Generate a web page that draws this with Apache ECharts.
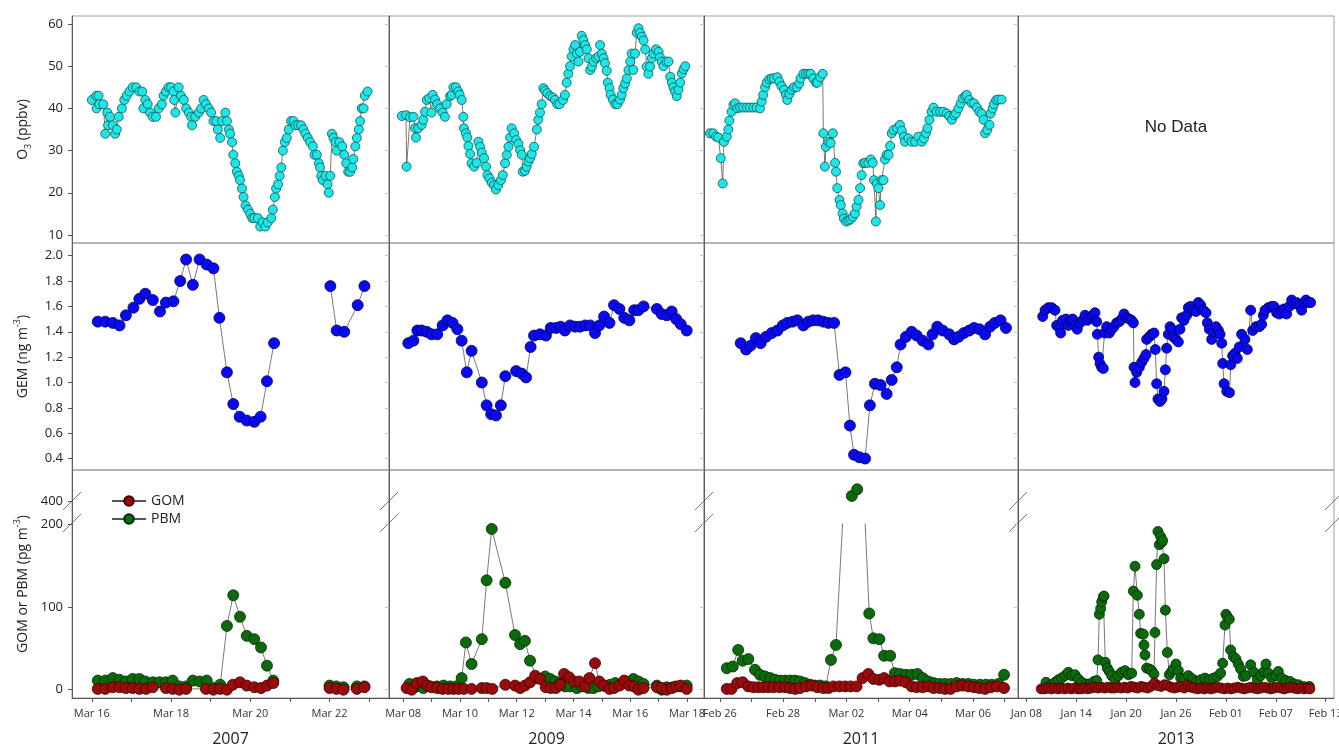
<!DOCTYPE html>
<html>
<head>
<meta charset="utf-8">
<script src="https://cdn.jsdelivr.net/npm/echarts@6/dist/echarts.min.js"></script>
<style>
  html, body { margin: 0; padding: 0; background: #fff; }
  #chart { width: 1339px; height: 748px; }
</style>
</head>
<body>
<div id="chart"></div>
<script>
// x values are days: 2007/2009 = day of March, 2011 = days after Feb 28, 2013 = days after Dec 31
const years = ['2007', '2009', '2011', '2013'];

// ---------- O3 (ppbv) ----------
const o3_2007 = [[16.00,42],[16.11,43],[16.12,40],[16.17,43],[16.19,41],[16.29,41],[16.34,34],[16.39,39],[16.41,36],[16.46,38],[16.53,36],[16.59,34],[16.63,35],[16.68,38],[16.76,40],[16.82,42],[16.88,43],[16.95,44],[17.03,45],[17.12,45],[17.20,44],[17.27,44],[17.30,40],[17.35,42],[17.41,41],[17.47,39],[17.54,38],[17.62,38],[17.69,40],[17.77,41],[17.81,43],[17.87,44],[17.94,45],[18.00,45],[18.06,44],[18.08,42],[18.11,39],[18.19,45],[18.25,43],[18.32,42],[18.38,40],[18.45,39],[18.51,38],[18.53,36],[18.61,38],[18.70,39],[18.76,40],[18.82,42],[18.88,41],[18.95,40],[19.01,39],[19.07,37],[19.14,37],[19.18,35],[19.24,33],[19.29,37],[19.37,39],[19.41,37],[19.46,35],[19.49,34],[19.54,32],[19.57,29],[19.62,27],[19.66,25],[19.71,24],[19.74,23],[19.79,21],[19.83,19],[19.88,17],[19.94,16],[20.00,15],[20.05,14],[20.10,14],[20.19,14],[20.25,12],[20.31,13],[20.38,12],[20.44,13],[20.53,14],[20.57,16],[20.62,19],[20.65,21],[20.70,22],[20.74,24],[20.78,26],[20.82,30],[20.87,32],[20.92,33],[20.97,35],[21.03,37],[21.09,37],[21.14,36],[21.21,36],[21.28,36],[21.34,35],[21.39,34],[21.45,33],[21.51,32],[21.58,31],[21.62,29],[21.68,29],[21.73,27],[21.76,26],[21.79,24],[21.83,23],[21.90,24],[21.95,22],[21.98,20],[22.02,24],[22.06,34],[22.10,33],[22.15,32],[22.18,30],[22.25,32],[22.32,31],[22.37,29],[22.42,27],[22.47,25],[22.52,25],[22.57,26],[22.60,28],[22.65,31],[22.69,33],[22.74,35],[22.77,37],[22.81,40],[22.86,40],[22.89,43],[22.96,44]];

const o3_2009 = [[7.95,38.2],[8.10,38.4],[8.12,26.2],[8.24,37.9],[8.36,38.0],[8.42,35.3],[8.45,33.1],[8.53,35.3],[8.65,36.1],[8.71,37.3],[8.77,39.2],[8.83,42.0],[8.92,42.4],[9.00,39.0],[9.04,43.2],[9.12,42.1],[9.20,41.0],[9.30,40.0],[9.39,39.0],[9.47,38.0],[9.53,41.0],[9.65,42.9],[9.71,43.2],[9.77,45.0],[9.86,45.0],[9.94,44.0],[9.99,43.2],[10.06,42.0],[10.12,38.0],[10.14,35.3],[10.21,34.1],[10.26,33.1],[10.30,31.1],[10.36,29.2],[10.41,27.0],[10.50,26.2],[10.59,27.1],[10.65,32.1],[10.71,30.9],[10.77,29.5],[10.85,28.2],[10.92,26.2],[10.97,24.2],[11.04,23.4],[11.12,22.4],[11.20,21.8],[11.27,20.8],[11.35,21.8],[11.44,23.0],[11.51,24.2],[11.59,27.0],[11.65,29.0],[11.71,30.9],[11.77,33.1],[11.82,35.3],[11.91,34.1],[11.98,32.5],[12.06,31.6],[12.12,30.1],[12.18,29.0],[12.21,25.0],[12.29,25.2],[12.35,26.2],[12.41,27.4],[12.47,28.2],[12.53,29.2],[12.61,30.9],[12.71,35.0],[12.76,37.3],[12.82,39.0],[12.88,41.0],[12.94,44.8],[13.00,44.2],[13.08,43.6],[13.18,42.9],[13.27,42.6],[13.35,42.0],[13.43,41.0],[13.51,41.0],[13.63,42.0],[13.70,43.2],[13.76,46.1],[13.82,48.2],[13.88,50.0],[13.94,52.3],[14.00,54.0],[14.06,55.0],[14.12,53.0],[14.18,51.1],[14.23,53.4],[14.29,57.2],[14.35,56.2],[14.41,55.0],[14.47,54.0],[14.53,51.9],[14.59,49.1],[14.65,49.9],[14.71,51.1],[14.80,51.9],[14.88,52.3],[14.94,55.0],[15.00,53.0],[15.06,51.9],[15.11,50.7],[15.17,48.9],[15.21,46.1],[15.27,44.8],[15.31,43.2],[15.39,42.1],[15.47,41.0],[15.55,41.0],[15.64,42.1],[15.70,43.2],[15.76,44.8],[15.82,45.9],[15.88,47.1],[15.94,49.1],[16.00,51.1],[16.05,53.0],[16.11,49.1],[16.17,53.0],[16.23,57.9],[16.29,59.0],[16.35,57.9],[16.41,57.0],[16.47,56.1],[16.53,54.0],[16.58,49.9],[16.64,48.2],[16.70,49.9],[16.76,51.9],[16.82,53.0],[16.91,54.0],[17.00,53.4],[17.05,52.1],[17.11,51.1],[17.17,50.0],[17.27,51.1],[17.35,51.1],[17.41,47.5],[17.47,46.1],[17.52,45.0],[17.58,44.0],[17.64,42.9],[17.70,44.4],[17.76,46.1],[17.82,48.3],[17.88,49.3],[17.94,50.0]];

const o3_2011 = [[-2.31,34.1],[-2.21,34.1],[-2.12,33.3],[-2.05,33.1],[-1.97,28.2],[-1.91,22.2],[-1.87,32.1],[-1.78,33.3],[-1.73,35.0],[-1.70,37.1],[-1.63,39.2],[-1.57,40.8],[-1.52,41.2],[-1.45,40.0],[-1.36,40.2],[-1.26,40.2],[-1.15,40.2],[-1.05,40.2],[-0.94,40.2],[-0.84,40.2],[-0.73,40.0],[-0.68,41.6],[-0.63,43.2],[-0.57,45.0],[-0.52,46.1],[-0.44,46.9],[-0.36,47.1],[-0.29,47.1],[-0.18,47.4],[-0.12,46.3],[-0.05,45.3],[0.03,44.4],[0.09,43.2],[0.13,42.0],[0.20,43.4],[0.27,44.4],[0.34,45.0],[0.43,45.0],[0.51,45.9],[0.55,47.1],[0.64,48.2],[0.72,48.2],[0.80,48.2],[0.87,48.2],[0.95,47.1],[1.04,46.1],[1.08,46.1],[1.17,47.4],[1.25,48.2],[1.27,34.1],[1.32,26.2],[1.35,30.9],[1.43,32.1],[1.50,31.8],[1.57,34.1],[1.64,27.1],[1.67,25.0],[1.71,21.1],[1.78,18.3],[1.82,17.1],[1.88,15.1],[1.92,13.9],[1.99,13.2],[2.06,13.4],[2.13,13.7],[2.20,14.3],[2.27,15.1],[2.32,16.7],[2.38,18.3],[2.43,21.1],[2.48,24.2],[2.53,27.0],[2.59,27.1],[2.69,27.1],[2.77,27.9],[2.83,27.1],[2.87,23.0],[2.93,13.2],[2.96,22.2],[3.01,21.1],[3.06,17.1],[3.11,23.0],[3.17,23.0],[3.22,27.9],[3.27,29.0],[3.33,29.0],[3.38,31.1],[3.43,34.1],[3.49,34.9],[3.60,35.3],[3.69,36.1],[3.75,34.7],[3.82,33.3],[3.85,32.1],[3.96,32.9],[4.06,32.1],[4.17,32.1],[4.27,33.3],[4.38,32.1],[4.45,32.9],[4.51,34.1],[4.56,35.3],[4.62,37.3],[4.69,39.2],[4.75,40.2],[4.85,39.2],[4.96,39.2],[5.06,39.2],[5.17,38.8],[5.25,38.2],[5.33,37.3],[5.40,38.4],[5.46,38.8],[5.54,40.0],[5.61,41.2],[5.67,42.4],[5.75,42.9],[5.80,43.2],[5.88,42.0],[5.96,41.2],[6.03,41.2],[6.12,40.2],[6.20,39.2],[6.27,38.8],[6.33,37.3],[6.38,34.1],[6.45,34.9],[6.52,36.1],[6.56,38.8],[6.62,40.0],[6.66,41.0],[6.73,42.0],[6.80,42.1],[6.90,42.1]];

// ---------- GEM (ng m-3) ----------
const gem_2007 = [[16.15,1.48],[16.34,1.48],[16.53,1.47],[16.70,1.45],[16.86,1.53],[17.05,1.59],[17.20,1.66],[17.35,1.70],[17.54,1.65],[17.72,1.56],[17.87,1.63],[18.06,1.64],[18.23,1.80],[18.38,1.97],[18.55,1.77],[18.72,1.97],[18.90,1.93],[19.07,1.90],[19.22,1.51],[19.41,1.08],[19.57,0.83],[19.73,0.73],[19.91,0.70],[20.10,0.69],[20.26,0.73],[20.42,1.01],[20.60,1.31],[21.30,null],[22.02,1.76],[22.18,1.41],[22.37,1.40],[22.71,1.61],[22.88,1.76]];

const gem_2009 = [[8.18,1.31],[8.36,1.33],[8.50,1.41],[8.65,1.41],[8.83,1.40],[9.00,1.38],[9.20,1.38],[9.39,1.45],[9.56,1.49],[9.74,1.47],[9.91,1.42],[10.06,1.33],[10.24,1.08],[10.41,1.25],[10.77,1.00],[10.94,0.82],[11.10,0.75],[11.27,0.74],[11.44,0.82],[11.60,1.05],[11.80,null],[11.98,1.09],[12.18,1.07],[12.33,1.04],[12.49,1.28],[12.61,1.37],[12.82,1.38],[13.03,1.37],[13.20,1.43],[13.39,1.43],[13.55,1.44],[13.70,1.41],[13.88,1.45],[14.06,1.44],[14.23,1.44],[14.41,1.45],[14.59,1.45],[14.76,1.39],[14.91,1.45],[15.08,1.52],[15.27,1.47],[15.43,1.61],[15.62,1.58],[15.79,1.51],[15.97,1.49],[16.14,1.57],[16.29,1.57],[16.47,1.60],[16.94,1.58],[17.11,1.54],[17.29,1.53],[17.46,1.56],[17.62,1.50],[17.78,1.46],[17.99,1.41]];

const gem_2011 = [[-1.34,1.31],[-1.17,1.26],[-1.03,1.29],[-0.86,1.35],[-0.71,1.31],[-0.54,1.36],[-0.36,1.39],[-0.18,1.41],[-0.01,1.45],[0.13,1.47],[0.30,1.48],[0.45,1.49],[0.64,1.45],[0.80,1.48],[0.95,1.49],[1.11,1.49],[1.27,1.48],[1.43,1.47],[1.61,1.47],[1.78,1.06],[1.97,1.08],[2.11,0.66],[2.24,0.43],[2.41,0.41],[2.59,0.40],[2.74,0.82],[2.90,0.99],[3.08,0.98],[3.27,0.91],[3.43,1.02],[3.59,1.12],[3.71,1.30],[3.88,1.36],[4.06,1.40],[4.22,1.37],[4.41,1.33],[4.59,1.30],[4.72,1.38],[4.87,1.44],[5.04,1.41],[5.25,1.38],[5.40,1.34],[5.54,1.36],[5.71,1.39],[5.88,1.41],[6.03,1.43],[6.20,1.42],[6.38,1.38],[6.54,1.44],[6.69,1.47],[6.87,1.49],[7.04,1.43]];

const gem_2013 = [[9.97,1.52],[10.25,1.57],[10.65,1.59],[11.05,1.59],[11.45,1.57],[11.65,1.45],[11.97,1.43],[12.13,1.39],[12.37,1.49],[12.77,1.50],[13.05,1.45],[13.33,1.49],[13.57,1.50],[13.85,1.45],[14.13,1.42],[14.45,1.47],[14.78,1.49],[15.06,1.53],[15.34,1.49],[15.66,1.51],[15.98,1.53],[16.26,1.55],[16.46,1.48],[16.54,1.38],[16.70,1.20],[16.86,1.15],[17.06,1.12],[17.26,1.11],[17.42,1.39],[17.66,1.44],[17.98,1.39],[18.26,1.42],[18.54,1.44],[18.86,1.47],[19.18,1.48],[19.46,1.50],[19.75,1.54],[20.07,1.51],[20.39,1.50],[20.67,1.49],[20.87,1.47],[20.95,1.12],[21.07,1.00],[21.27,1.08],[21.59,1.12],[21.87,1.16],[22.15,1.19],[22.39,1.22],[22.47,1.34],[22.79,1.36],[23.07,1.38],[23.35,1.39],[23.51,1.26],[23.67,0.99],[23.83,0.87],[24.07,0.85],[24.31,0.87],[24.56,0.93],[24.72,1.10],[24.88,1.27],[25.08,1.38],[25.28,1.44],[25.48,1.42],[25.68,1.36],[26.00,1.34],[26.28,1.32],[26.48,1.42],[26.68,1.51],[26.96,1.49],[27.28,1.53],[27.48,1.59],[27.76,1.60],[28.08,1.57],[28.40,1.56],[28.68,1.63],[28.96,1.61],[29.28,1.57],[29.61,1.55],[29.77,1.47],[30.01,1.42],[30.29,1.34],[30.49,1.40],[30.81,1.44],[31.10,1.41],[31.30,1.38],[31.50,1.31],[31.62,1.15],[31.78,0.99],[32.10,0.93],[32.43,0.92],[32.59,1.14],[32.81,1.21],[33.09,1.23],[33.37,1.19],[33.61,1.28],[33.89,1.38],[34.29,1.34],[34.58,1.26],[34.98,1.57],[35.22,1.41],[35.62,1.44],[36.02,1.44],[36.30,1.46],[36.50,1.53],[36.70,1.57],[37.10,1.59],[37.50,1.60],[37.78,1.60],[38.10,1.55],[38.42,1.54],[38.70,1.57],[38.98,1.58],[39.30,1.54],[39.63,1.60],[39.91,1.65],[40.19,1.62],[40.51,1.63],[40.83,1.61],[41.11,1.57],[41.39,1.63],[41.63,1.65],[41.91,1.63],[42.19,1.63]];

// ---------- GOM (pg m-3) ----------
const gom_2007 = [[16.15,1],[16.34,1],[16.53,3],[16.70,3],[16.86,2],[17.03,2],[17.20,1],[17.37,1],[17.54,3],[17.87,2],[18.04,1],[18.21,0],[18.38,1],[18.88,1],[19.07,0],[19.24,1],[19.41,0],[19.56,6],[19.74,9],[19.91,5],[20.10,3],[20.27,2],[20.42,5],[20.58,8],[21.30,null],[22.00,2],[22.17,1],[22.35,0],[22.69,1],[22.88,3]];

const gom_2009 = [[8.12,2],[8.30,0],[8.48,8],[8.69,10],[8.85,5],[9.00,3],[9.20,2],[9.39,1],[9.59,1],[9.77,1],[9.94,1],[10.14,1],[10.41,1],[10.77,2],[10.94,2],[11.14,1],[11.60,6],[11.94,5],[12.12,2],[12.29,5],[12.47,9],[12.65,17],[12.82,13],[13.02,3],[13.20,2],[13.38,2],[13.53,6],[13.67,19],[13.85,15],[14.02,10],[14.21,10],[14.41,4],[14.56,14],[14.76,32],[14.91,10],[15.08,5],[15.27,1],[15.43,2],[15.62,5],[15.79,11],[15.97,5],[16.14,4],[16.29,0],[16.47,2],[16.94,3],[17.11,2],[17.29,0],[17.46,2],[17.62,4],[17.78,5],[17.99,1]];

const gom_2011 = [[-1.78,1],[-1.63,1],[-1.45,8],[-1.28,9],[-1.10,4],[-0.94,3],[-0.78,3],[-0.63,3],[-0.47,3],[-0.31,3],[-0.12,3],[0.06,3],[0.22,2],[0.38,1],[0.53,2],[0.72,4],[0.90,5],[1.08,3],[1.27,2],[1.43,2],[1.59,4],[1.78,4],[1.96,4],[2.13,4],[2.32,4],[2.51,14],[2.69,19],[2.85,13],[3.04,12],[3.19,14],[3.36,10],[3.53,10],[3.69,11],[3.88,9],[4.06,4],[4.22,3],[4.41,3],[4.59,4],[4.75,2],[4.94,2],[5.11,1],[5.29,1],[5.48,4],[5.67,5],[5.85,4],[6.03,3],[6.20,2],[6.38,1],[6.56,3],[6.75,4],[6.98,2]];

const gom_2013 = [[9.8,1],[10.2,1],[10.6,2],[11.0,1],[11.4,2],[11.8,1],[12.2,2],[12.6,1],[13.0,2],[13.4,1],[13.8,2],[14.2,1],[14.6,1],[15.0,2],[15.4,1],[15.8,2],[16.2,3],[16.6,2],[17.0,3],[17.4,2],[17.8,3],[18.2,2],[18.6,2],[19.0,3],[19.4,2],[19.8,3],[20.2,2],[20.6,4],[21.0,3],[21.4,2],[21.8,4],[22.2,3],[22.6,2],[23.0,4],[23.4,8],[23.8,5],[24.2,4],[24.6,6],[25.0,5],[25.4,3],[25.8,2],[26.2,3],[26.6,4],[27.0,2],[27.4,5],[27.8,3],[28.2,2],[28.6,1],[29.0,2],[29.4,1],[29.8,2],[30.2,1],[30.6,2],[31.0,3],[31.4,2],[31.8,1],[32.2,2],[32.6,1],[33.0,2],[33.4,3],[33.8,2],[34.2,1],[34.6,2],[35.0,3],[35.4,2],[35.8,1],[36.2,2],[36.6,3],[37.0,2],[37.4,1],[37.8,2],[38.2,3],[38.6,2],[39.0,1],[39.4,2],[39.8,3],[40.2,2],[40.6,1],[41.0,2],[41.4,1],[41.8,2],[42.1,1]];

// ---------- PBM (pg m-3) ----------
const pbm_2007 = [[16.15,11],[16.34,11],[16.53,14],[16.70,12],[16.86,10],[17.03,13],[17.20,13],[17.35,10],[17.54,9],[17.71,9],[17.87,9],[18.04,11],[18.21,4],[18.38,4],[18.55,11],[18.72,10],[18.90,11],[19.07,2],[19.24,6],[19.41,77],[19.57,114],[19.74,88],[19.91,65],[20.10,61],[20.27,51],[20.42,29],[20.58,11],[21.30,null],[22.00,5],[22.17,4],[22.35,3],[22.69,4],[22.88,4]];

const pbm_2009 = [[8.22,7],[8.48,4],[8.71,2],[8.95,4],[9.19,4],[9.42,5],[9.65,4],[9.86,4],[10.06,14],[10.21,57],[10.41,31],[10.77,61],[10.94,132],[11.12,194],[11.60,129],[11.94,66],[12.12,55],[12.29,59],[12.47,35],[12.71,14],[13.00,16],[13.18,13],[13.35,10],[13.53,8],[13.70,4],[13.88,4],[14.12,2],[14.29,4],[14.53,2],[14.70,2],[14.88,4],[15.08,5],[15.29,6],[15.47,8],[15.64,6],[15.90,9],[16.11,13],[16.29,10],[16.47,7],[16.94,5],[17.11,0],[17.29,3],[17.52,3],[17.76,4],[17.99,5]];

const pbm_2011 = [[-1.78,26],[-1.59,28],[-1.42,48],[-1.28,35],[-1.10,37],[-0.89,24],[-0.73,18],[-0.57,16],[-0.41,14],[-0.26,12],[-0.10,11],[0.06,11],[0.22,11],[0.38,11],[0.53,10],[0.69,8],[0.85,6],[1.01,5],[1.17,5],[1.35,4],[1.51,36],[1.67,54],[2.17,406],[2.34,414],[2.72,92],[2.85,62],[3.04,61],[3.19,41],[3.38,41],[3.53,20],[3.69,19],[3.88,18],[4.06,18],[4.24,19],[4.41,14],[4.59,10],[4.75,8],[4.94,7],[5.11,7],[5.29,7],[5.48,8],[5.67,7],[5.85,7],[6.03,6],[6.22,6],[6.41,6],[6.59,6],[6.80,7],[6.98,18]];

const pbm_2013 = [[10.37,9],[10.85,5],[11.45,9],[11.85,12],[12.25,14],[12.65,17],[13.05,21],[13.45,17],[13.85,18],[14.25,13],[14.66,9],[15.18,7],[15.66,7],[16.14,10],[16.46,11],[16.62,36],[16.78,91],[16.94,98],[17.06,106],[17.26,112],[17.34,113],[17.50,33],[17.74,26],[17.98,22],[18.26,17],[18.66,12],[19.06,17],[19.46,21],[19.87,23],[20.27,18],[20.67,20],[20.87,119],[21.07,149],[21.35,114],[21.59,91],[21.75,68],[22.07,67],[22.15,54],[22.27,42],[22.47,26],[22.79,25],[23.07,23],[23.35,19],[23.47,69],[23.67,151],[23.83,191],[23.99,175],[24.15,185],[24.31,178],[24.39,180],[24.56,158],[24.72,96],[24.96,45],[25.20,18],[25.48,22],[25.68,25],[26.00,31],[26.28,23],[26.56,14],[26.96,13],[27.48,17],[28.00,13],[28.48,10],[28.96,12],[29.48,14],[30.01,12],[30.49,14],[30.97,16],[31.37,20],[31.61,32],[31.89,78],[32.01,91],[32.17,88],[32.41,85],[32.57,48],[32.89,40],[33.21,37],[33.49,31],[33.77,25],[34.09,16],[34.41,17],[34.98,30],[35.38,21],[35.78,12],[36.18,17],[36.58,22],[36.82,31],[37.10,20],[37.50,14],[38.02,17],[38.30,22],[38.70,14],[39.22,11],[39.71,10],[40.19,7],[40.71,6],[41.31,4],[42.03,4]];

// ---------- axis ticks ----------
const xTicks = [
  [16, 17, 18, 19, 20, 21, 22, 23],
  [8, 9, 10, 11, 12, 13, 14, 15, 16, 17, 18],
  [-2, -1, 0, 1, 2, 3, 4, 5, 6, 7],
  [8, 14, 20, 26, 32, 38, 44]
];
const xTickLabels = [
  [16, 18, 20, 22],
  [8, 10, 12, 14, 16, 18],
  [-2, 0, 2, 4, 6],
  [8, 14, 20, 26, 32, 38, 44]
];
const o3Ticks = [10, 20, 30, 40, 50, 60];
const gemTicks = [0.4, 0.6, 0.8, 1.0, 1.2, 1.4, 1.6, 1.8, 2.0];
const lowTicks = [0, 100, 200];
const highTicks = [400];

const o3Data = [o3_2007, o3_2009, o3_2011, null];
const gemData = [gem_2007, gem_2009, gem_2011, gem_2013];
const gomData = [gom_2007, gom_2009, gom_2011, gom_2013];
const pbmData = [pbm_2007, pbm_2009, pbm_2011, pbm_2013];

// ---------- layout ----------
const FONT = "'Open Sans', 'Noto Sans', sans-serif";
const colL = [72, 389, 704, 1018];
const colR = [389, 704, 1018, 1334];
const xRange = [[15.5, 23.5], [7.5, 18.6], [-2.5, 7.42], [7, 45]];
const pad2 = n => (n < 10 ? '0' : '') + n;
const dateFmt = [
  v => 'Mar ' + pad2(v),
  v => 'Mar ' + pad2(v),
  v => (v <= 0 ? 'Feb ' + pad2(28 + v) : 'Mar ' + pad2(v)),
  v => (v <= 31 ? 'Jan ' + pad2(v) : 'Feb ' + pad2(v - 31))
];

const titleRich = {
  b: { fontSize: 14, color: '#222', fontFamily: FONT, lineHeight: 20 },
  sub: { fontSize: 9, color: '#222', fontFamily: FONT, lineHeight: 10, verticalAlign: 'bottom' },
  sup: { fontSize: 9, color: '#222', fontFamily: FONT, lineHeight: 10, verticalAlign: 'top' }
};

const grids = [], xAxes = [], yAxes = [], series = [];

function addGrid(c, top, height, show) {
  grids.push({
    left: colL[c], width: colR[c] - colL[c], top: top, height: height,
    show: show, borderColor: '#9c9c9c', borderWidth: 1, backgroundColor: 'transparent',
    containLabel: false, outerBoundsMode: 'none'
  });
  return grids.length - 1;
}

function hiddenX(g, c) {
  return { type: 'value', gridIndex: g, min: xRange[c][0], max: xRange[c][1], show: false };
}

function dateX(g, c) {
  return {
    type: 'value', gridIndex: g, min: xRange[c][0], max: xRange[c][1],
    splitLine: { show: false },
    axisLine: { show: true, onZero: false, lineStyle: { color: '#555', width: 1 } },
    axisTick: { show: true, length: 4, customValues: xTicks[c], lineStyle: { color: '#555' } },
    axisLabel: {
      customValues: xTickLabels[c], formatter: dateFmt[c], margin: 10,
      fontSize: 11, color: '#333', fontFamily: FONT
    },
    name: years[c], nameLocation: 'middle', nameGap: 33,
    nameTextStyle: { fontSize: 16, color: '#222', fontFamily: FONT }
  };
}

function valueY(g, range, ticks, opts) {
  const o = Object.assign({ labels: false, line: true, fmt: null, name: null, tickColor: '#bbb' }, opts || {});
  const ax = {
    type: 'value', gridIndex: g, min: range[0], max: range[1],
    splitLine: { show: false },
    axisLine: { show: o.line, onZero: false, lineStyle: { color: '#5c5c5c', width: 1 } },
    axisTick: { show: ticks.length > 0, length: 4, customValues: ticks, lineStyle: { color: o.tickColor } },
    axisLabel: {
      show: o.labels, customValues: ticks, margin: 9,
      fontSize: 13, color: '#222', fontFamily: FONT
    }
  };
  if (o.fmt) ax.axisLabel.formatter = o.fmt;
  if (o.name) {
    ax.name = o.name;
    ax.nameLocation = 'middle';
    ax.nameRotate = 90;
    ax.nameGap = 39;
    ax.nameTextStyle = { rich: titleRich };
  }
  return ax;
}

function lineSeries(name, data, g, fill, edge, size) {
  return {
    type: 'line', name: name, xAxisIndex: g, yAxisIndex: g, data: data,
    symbol: 'circle', symbolSize: size, showSymbol: true, connectNulls: false, clip: true,
    lineStyle: { color: '#555', width: 0.8 },
    itemStyle: { color: fill, borderColor: edge, borderWidth: 0.8 },
    emphasis: { disabled: true }, silent: true, animation: false
  };
}

for (let c = 0; c < 4; c++) {
  const first = c === 0;
  const mk = c === 3 ? 10 : 11;

  // row 1: O3
  let g = addGrid(c, 16, 227, true);
  xAxes.push(hiddenX(g, c));
  yAxes.push(valueY(g, [8.1, 61.9], o3Ticks, {
    labels: first, tickColor: first ? '#555' : '#c4c4c4',
    name: first ? '{b|O}{sub|3}{b| (ppbv)}' : null
  }));
  if (o3Data[c]) series.push(lineSeries('O3', o3Data[c], g, '#1ee6e6', '#0b5656', 9));

  // row 2: GEM
  g = addGrid(c, 243, 227, true);
  xAxes.push(hiddenX(g, c));
  yAxes.push(valueY(g, [0.31, 2.10], gemTicks, {
    labels: first, tickColor: first ? '#555' : '#c4c4c4', fmt: v => v.toFixed(1),
    name: first ? '{b|GEM (ng m}{sup|-3}{b|)}' : null
  }));
  series.push(lineSeries('GEM', gemData[c], g, '#0a0af0', '#00005a', mk));

  // row 3: frame holding the broken axis
  g = addGrid(c, 470, 228, true);
  xAxes.push(hiddenX(g, c));
  yAxes.push(valueY(g, [0, 1], [], {
    labels: false, name: first ? '{b|GOM or PBM (pg m}{sup|-3}{b|)}' : null
  }));

  // row 3, upper segment (above the break)
  g = addGrid(c, 470, 31, false);
  xAxes.push(hiddenX(g, c));
  yAxes.push(valueY(g, [400, 437], first ? highTicks : [], { labels: first, line: false, tickColor: '#555' }));
  const pbmHigh = pbmData[c].map(p => [p[0], p[1] !== null && p[1] >= 300 ? p[1] : null]);
  series.push(lineSeries('PBM', pbmHigh, g, '#0c6a0c', '#032b03', mk));

  // row 3, lower segment (below the break)
  g = addGrid(c, 524, 174, false);
  xAxes.push(dateX(g, c));
  yAxes.push(valueY(g, [-10, 200], lowTicks, {
    labels: first, line: false, tickColor: first ? '#555' : '#c4c4c4'
  }));
  series.push(lineSeries('PBM', pbmData[c], g, '#0c6a0c', '#032b03', mk));
  series.push(lineSeries('GOM', gomData[c], g, '#980c0c', '#3d0000', mk));
}

// axis-break marks on every column boundary
const breakMarks = [];
[72, 389, 704, 1018, 1334].forEach(x => {
  [501, 523].forEach(y => {
    breakMarks.push({
      type: 'line', silent: true,
      shape: { x1: x - 9, y1: y + 9, x2: x + 9, y2: y - 9 },
      style: { stroke: '#777', lineWidth: 1 }
    });
  });
});

const option = {
  animation: false,
  backgroundColor: '#fff',
  grid: grids,
  xAxis: xAxes,
  yAxis: yAxes,
  series: series,
  legend: {
    data: ['GOM', 'PBM'], orient: 'vertical', left: 106, top: 489,
    itemWidth: 34, itemHeight: 12, itemGap: 4,
    textStyle: { fontSize: 14, color: '#222', fontFamily: FONT },
    selectedMode: false
  },
  graphic: breakMarks.concat([
    {
      type: 'text', x: 1176, y: 127, silent: true,
      style: {
        text: 'No Data', fontSize: 17, fill: '#222', fontFamily: "'Liberation Sans', Arial, sans-serif",
        align: 'center', verticalAlign: 'middle'
      }
    }
  ])
};

const chart = echarts.init(document.getElementById('chart'), null, { renderer: 'canvas' });
chart.setOption(option);
</script>
</body>
</html>
